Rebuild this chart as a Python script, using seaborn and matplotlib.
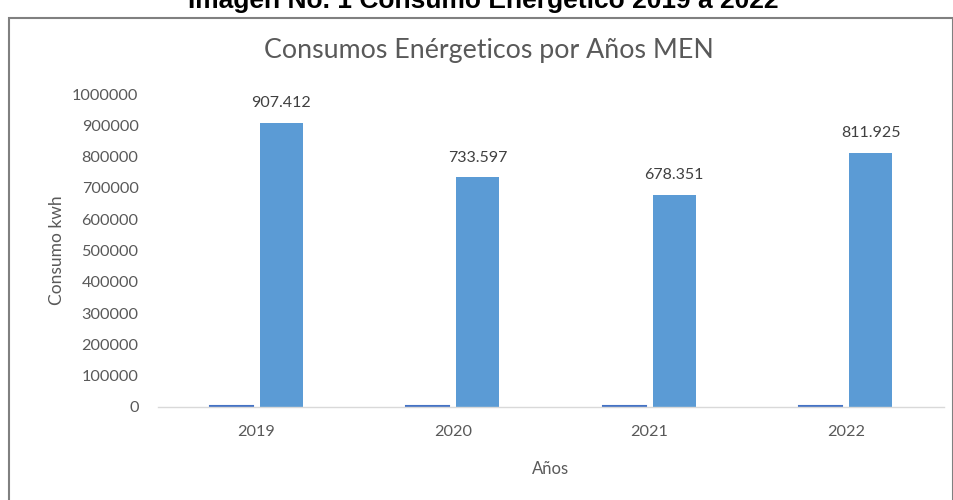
import pandas as pd
import matplotlib.pyplot as plt
import seaborn as sns
from matplotlib.patches import Rectangle

years = ["2019", "2020", "2021", "2022"]
year_values = [2019, 2020, 2021, 2022]
consumo = [907412, 733597, 678351, 811925]
labels = ["907.412", "733.597", "678.351", "811.925"]

if __name__ == "__main__":
    df = pd.DataFrame({
        "Años": years * 2,
        "valor": year_values + consumo,
        "serie": ["Año"] * 4 + ["Consumo"] * 4,
    })

    sns.set_style("white")
    plt.rcParams['font.family'] = ['Lato', 'DejaVu Sans']

    fig = plt.figure(figsize=(9.54, 5), dpi=100)
    ax = fig.add_axes([158 / 954, 93 / 500, 786 / 954, 313 / 500])

    sns.barplot(data=df, x="Años", y="valor", hue="serie", ax=ax,
                palette=["#4472C4", "#5B9BD5"], width=0.51, gap=0.14,
                legend=False, saturation=1, linewidth=0)

    # tiny bars are barely visible in the original, give them a thin edge
    for bar in ax.containers[0]:
        bar.set_edgecolor("#4472C4")
        bar.set_linewidth(1.5)

    ax.bar_label(ax.containers[1], labels=labels, padding=9,
                 fontsize=11.5, color="#404040")

    ax.set_ylim(0, 1000000)
    ax.set_yticks(range(0, 1000001, 100000))
    ax.set_yticklabels([str(v) for v in range(0, 1000001, 100000)])
    ax.tick_params(axis="both", length=0, labelsize=11.7, colors="#595959")
    ax.tick_params(axis="x", pad=13)
    ax.tick_params(axis="y", pad=14)

    for side in ["top", "right", "left"]:
        ax.spines[side].set_visible(False)
    ax.spines["bottom"].set_color("#D9D9D9")
    ax.spines["bottom"].set_linewidth(1)

    ax.set_xlabel("Años", fontsize=12, color="#595959", labelpad=16)
    ax.set_ylabel("Consumo kwh", fontsize=12.5, color="#595959", labelpad=5)

    fig.text(489 / 954, 1 - 58 / 500, "Consumos Enérgeticos por Años MEN",
             ha="center", va="baseline", fontsize=19.3, color="#595959")

    fig.patches.append(Rectangle((9 / 954, -0.02), 0.99, 1 - 18 / 500 + 0.02,
                                 transform=fig.transFigure, fill=False,
                                 edgecolor="#808080", linewidth=1.5))
    fig.text(483 / 954, 1 - 8 / 500, "Imagen No. 1 Consumo Energético 2019 a 2022",
             ha="center", va="baseline", fontsize=19, fontweight="bold",
             family=["Liberation Sans", "DejaVu Sans"], color="black")

    plt.savefig("out.png", dpi=100)
